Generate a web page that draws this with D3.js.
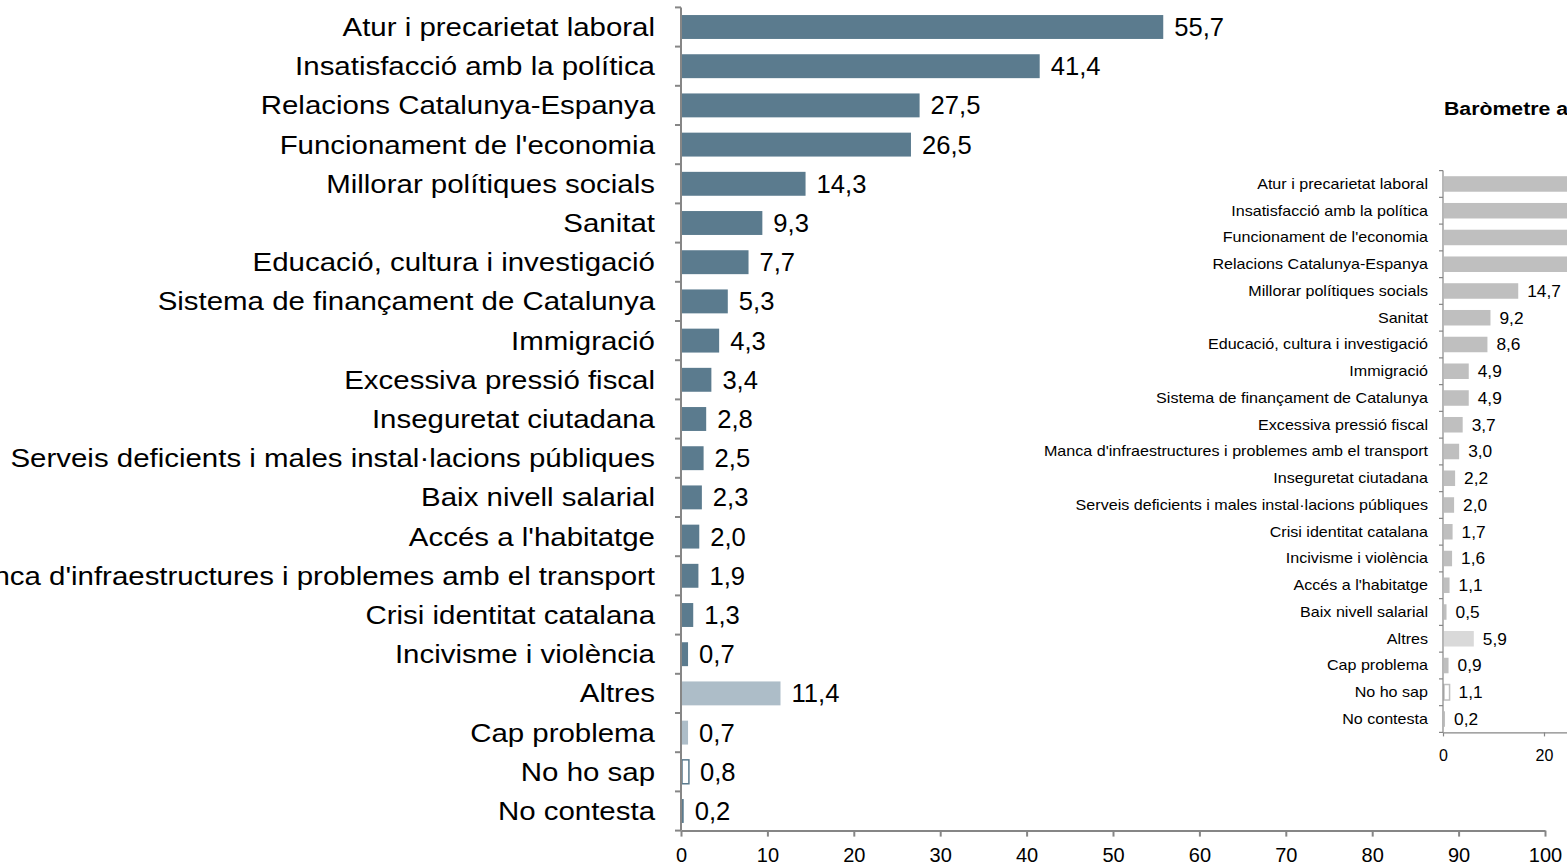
<!DOCTYPE html>
<html>
<head>
<meta charset="utf-8">
<script src="https://cdn.jsdelivr.net/npm/d3@7"></script>
<style>
  body { margin: 0; background: #fff; }
  text { font-family: "Liberation Sans", Arial, sans-serif; fill: #000; }
  .axis path, .axis line { stroke: #868686; }
</style>
</head>
<body>
<div id="chart"></div>
<script>
// current barometer
var categories = ["Atur i precarietat laboral", "Insatisfacció amb la política", "Relacions Catalunya-Espanya",
  "Funcionament de l'economia", "Millorar polítiques socials", "Sanitat", "Educació, cultura i investigació",
  "Sistema de finançament de Catalunya", "Immigració", "Excessiva pressió fiscal", "Inseguretat ciutadana",
  "Serveis deficients i males instal·lacions públiques", "Baix nivell salarial", "Accés a l'habitatge",
  "Manca d'infraestructures i problemes amb el transport", "Crisi identitat catalana", "Incivisme i violència",
  "Altres", "Cap problema", "No ho sap", "No contesta"];
var values = [55.7, 41.4, 27.5, 26.5, 14.3, 9.3, 7.7, 5.3, 4.3, 3.4, 2.8, 2.5, 2.3, 2.0, 1.9, 1.3, 0.7, 11.4, 0.7, 0.8, 0.2];

// previous barometer (first four bars run off the page, values estimated)
var prevCategories = ["Atur i precarietat laboral", "Insatisfacció amb la política", "Funcionament de l'economia",
  "Relacions Catalunya-Espanya", "Millorar polítiques socials", "Sanitat", "Educació, cultura i investigació",
  "Immigració", "Sistema de finançament de Catalunya", "Excessiva pressió fiscal",
  "Manca d'infraestructures i problemes amb el transport", "Inseguretat ciutadana",
  "Serveis deficients i males instal·lacions públiques", "Crisi identitat catalana", "Incivisme i violència",
  "Accés a l'habitatge", "Baix nivell salarial", "Altres", "Cap problema", "No ho sap", "No contesta"];
var prevValues = [58.9, 36.8, 31.5, 28.4, 14.7, 9.2, 8.6, 4.9, 4.9, 3.7, 3.0, 2.2, 2.0, 1.7, 1.6, 1.1, 0.5, 5.9, 0.9, 1.1, 0.2];

var xTicks = [0, 10, 20, 30, 40, 50, 60, 70, 80, 90, 100];
var prevTicks = [0, 20, 40, 60, 80, 100];
var prevTitle = "Baròmetre anterior";

var width = 1567, height = 865;
var sx = 1.15; // category text in the original is a bit stretched sideways

var lightCats = ["Altres", "Cap problema"];
var fmt = d3.formatLocale({decimal: ",", thousands: ".", grouping: [3], currency: ["", "€"]}).format(".1f");

var svg = d3.select('#chart').append('svg')
  .attr('width', width)
  .attr('height', height);

function stretch(x, y, s) {
  return 'translate(' + x + ',' + y + ') scale(' + s + ',1)';
}

function drawBars(opt) {
  var x = d3.scaleLinear().domain([0, 100]).range([opt.left, opt.right]);
  var y = d3.scaleBand().domain(opt.cats).range([opt.top, opt.bottom])
    .paddingInner(opt.pad).paddingOuter(opt.pad / 2);
  var gap = (y.step() - y.bandwidth()) / 2;
  var rows = opt.cats.map(function(c, i) { return {cat: c, val: opt.vals[i]}; });

  var g = svg.append('g');

  g.selectAll('rect.bar')
    .data(rows)
    .enter().append('rect')
      .attr('class', 'bar')
      .attr('x', x(0) + 1)
      .attr('y', d => y(d.cat))
      .attr('width', d => Math.max(0, x(d.val) - x(0)))
      .attr('height', y.bandwidth())
      .attr('fill', function(d) {
        if (d.cat == "No ho sap") return '#fff';
        if (lightCats.indexOf(d.cat) >= 0) return d.cat == "Altres" ? opt.light : opt.light2;
        return opt.color;
      })
      .attr('stroke', d => d.cat == "No ho sap" ? opt.color : 'none')
      .attr('stroke-width', 1.5);

  // y axis: line plus ticks between the categories
  var bounds = opt.cats.map(c => y(c) - gap);
  bounds.push(opt.bottom);
  g.append('line')
    .attr('x1', x(0)).attr('x2', x(0))
    .attr('y1', opt.top).attr('y2', opt.bottom)
    .attr('stroke', '#868686').attr('stroke-width', opt.lw);
  g.selectAll('line.ytick')
    .data(bounds)
    .enter().append('line')
      .attr('class', 'ytick')
      .attr('x1', x(0) - opt.tick).attr('x2', x(0))
      .attr('y1', d => d).attr('y2', d => d)
      .attr('stroke', '#868686').attr('stroke-width', opt.lw);

  // x axis
  var xa = g.append('g')
    .attr('class', 'axis')
    .attr('transform', 'translate(0,' + opt.bottom + ')')
    .call(d3.axisBottom(x).tickValues(opt.ticks).tickSize(opt.tick).tickSizeOuter(0).tickPadding(opt.tickPad));
  xa.select('.domain').attr('stroke-width', opt.lw);
  xa.selectAll('line').attr('stroke-width', opt.lw);
  xa.selectAll('text')
    .style('font-size', opt.tickFont + 'px')
    .style('font-family', '"Liberation Sans", Arial, sans-serif')
    .attr('fill', '#000');

  // category labels
  g.selectAll('text.cat')
    .data(rows)
    .enter().append('text')
      .attr('class', 'cat')
      .attr('transform', d => stretch(x(0) - opt.labelGap, y(d.cat) + y.bandwidth() / 2, sx))
      .attr('text-anchor', 'end')
      .attr('dy', '0.35em')
      .style('font-size', opt.catFont + 'px')
      .text(d => d.cat);

  // value labels
  g.selectAll('text.val')
    .data(rows)
    .enter().append('text')
      .attr('class', 'val')
      .attr('transform', d => stretch(x(d.val) + opt.valGap, y(d.cat) + y.bandwidth() / 2, opt.valSx))
      .attr('dy', '0.35em')
      .style('font-size', opt.valFont + 'px')
      .text(d => fmt(d.val));

  return x;
}

// main chart
drawBars({
  cats: categories, vals: values, ticks: xTicks,
  left: 681, right: 1545, top: 7.4, bottom: 830.6, pad: 0.39,
  color: '#5b7b8e', light: '#adbdc8', light2: '#adbdc8',
  lw: 2, tick: 6, tickPad: 11, tickFont: 20,
  labelGap: 26, valGap: 12, catFont: 25.6, valFont: 25.6, valSx: 1.0
});

// previous barometer, cut by the page edge
drawBars({
  cats: prevCategories, vals: prevValues, ticks: prevTicks,
  left: 1443, right: 1948, top: 170.6, bottom: 732.4, pad: 0.42,
  color: '#bfbfbf', light: '#d9d9d9', light2: '#bfbfbf',
  lw: 1.2, tick: 4, tickPad: 13, tickFont: 16,
  labelGap: 15, valGap: 10, catFont: 14, valFont: 16.5, valSx: 1.05
});

svg.append('text')
  .attr('transform', stretch(1444, 115, sx))
  .style('font-size', '18.5px')
  .style('font-weight', 'bold')
  .text(prevTitle);
</script>
</body>
</html>
